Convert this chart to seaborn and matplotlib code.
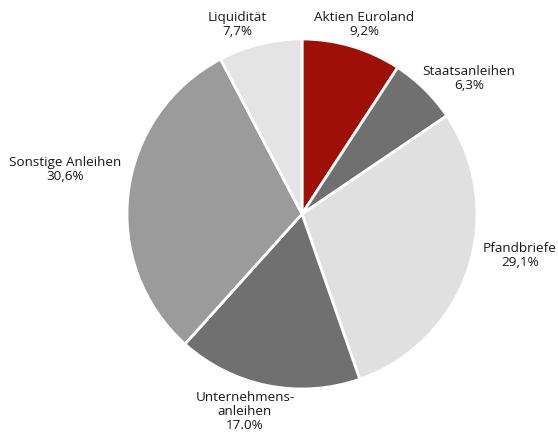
import seaborn as sns
import matplotlib.pyplot as plt
import numpy as np

labels = ['Aktien Euroland', 'Staatsanleihen', 'Pfandbriefe', 'Unternehmens-\nanleihen',
          'Sonstige Anleihen', 'Liquidität']
values = [9.2, 6.3, 29.1, 17.0, 30.6, 7.7]
value_labels = ['9,2%', '6,3%', '29,1%', '17.0%', '30,6%', '7,7%']

colors = ['#9e1007', '#707070', '#e0e0e0', '#707070', '#9b9b9b', '#e4e4e4']

# label positions in units of the pie radius
label_pos = [(0.354, 1.09), (0.954, 0.78), (1.246, -0.23), (-0.326, -1.125), (-1.354, 0.26), (-0.371, 1.09)]

sns.set_style('white')
plt.rcParams['font.family'] = ['Open Sans', 'DejaVu Sans']

fig = plt.figure(figsize=(5.58, 4.35), dpi=100)
r = 175
cx, cy = 302, 215
ax = fig.add_axes([(cx - r) / 558, (435 - cy - r) / 435, 2 * r / 558, 2 * r / 435])

wedges, _ = ax.pie(values, colors=colors, startangle=90, counterclock=False,
                   wedgeprops=dict(edgecolor='white', linewidth=2), radius=1)
ax.set_xlim(-1, 1)
ax.set_ylim(-1, 1)
ax.set_aspect('equal')
ax.axis('off')

for lab, val, (x, y) in zip(labels, value_labels, label_pos):
    ax.text(x, y, lab + '\n' + val, ha='center', va='center', fontsize=9.7,
            color='#1a1a1a', linespacing=1.1, clip_on=False)

plt.savefig('out.png', dpi=100)
